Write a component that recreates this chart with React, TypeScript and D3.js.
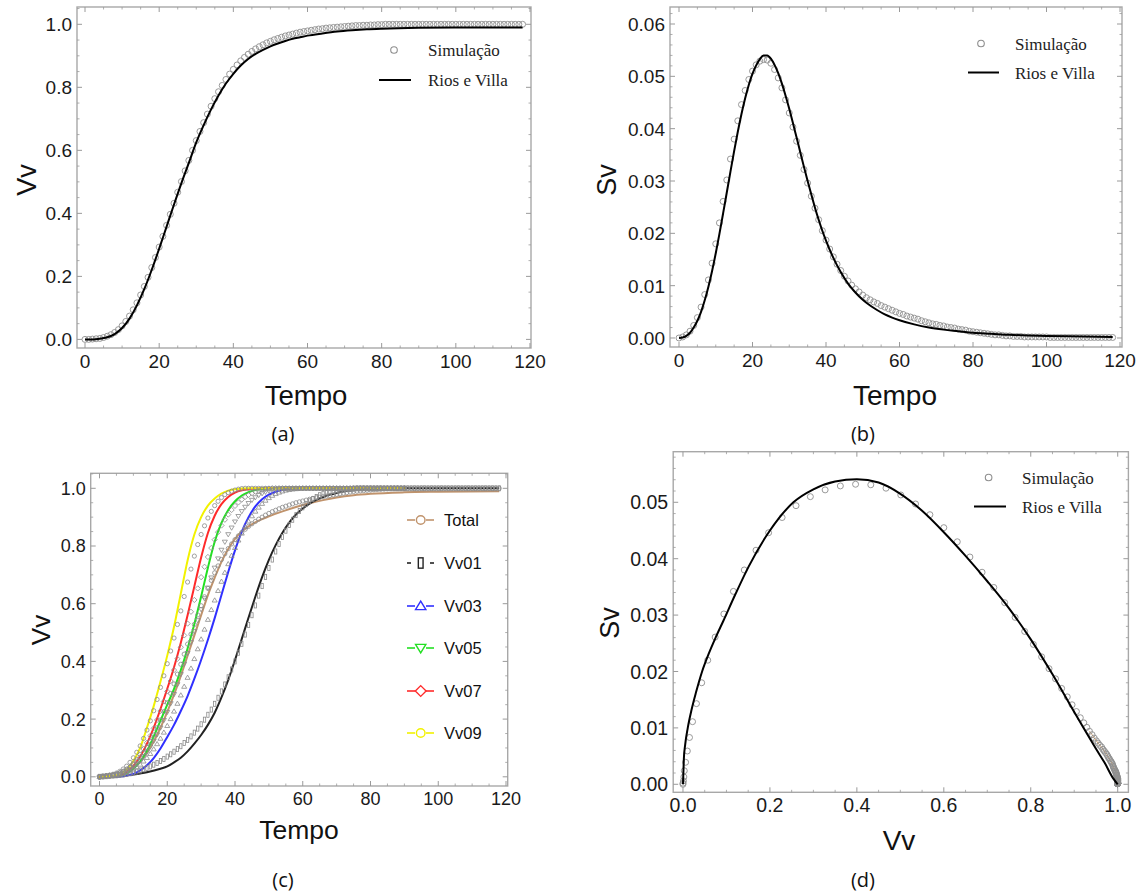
import React from "react";
import * as d3 from "d3";

// ---------- Data ----------
// Simulation (panels a, b, d): one value per time step t = 0..118
const simVv = [
  0.000, 0.000, 0.001, 0.002, 0.003, 0.006, 0.010, 0.015, 0.022, 0.031,
  0.043, 0.057, 0.074, 0.094, 0.116, 0.141, 0.168, 0.197, 0.228, 0.260,
  0.293, 0.327, 0.362, 0.397, 0.432, 0.467, 0.501, 0.535, 0.568, 0.600,
  0.631, 0.660, 0.688, 0.715, 0.740, 0.764, 0.786, 0.806, 0.825, 0.842,
  0.857, 0.871, 0.884, 0.895, 0.905, 0.914, 0.922, 0.929, 0.935, 0.941,
  0.946, 0.951, 0.955, 0.959, 0.963, 0.966, 0.969, 0.972, 0.975, 0.977,
  0.979, 0.981, 0.983, 0.985, 0.986, 0.988, 0.989, 0.990, 0.991, 0.992,
  0.993, 0.994, 0.995, 0.996, 0.996, 0.997, 0.997, 0.998, 0.998, 0.999,
  0.999, 1.000, 1.000, 1.000, 1.000, 1.000, 1.000, 1.000, 1.000, 1.000,
  1.000, 1.000, 1.000, 1.000, 1.000, 1.000, 1.000, 1.000, 1.000, 1.000,
  1.000, 1.000, 1.000, 1.000, 1.000, 1.000, 1.000, 1.000, 1.000, 1.000,
  1.000, 1.000, 1.000, 1.000, 1.000, 1.000, 1.000, 1.000, 1.000,
];
const simSv = [
  0.0000, 0.0002, 0.0006, 0.0013, 0.0024, 0.0039, 0.0059, 0.0083, 0.0111, 0.0143,
  0.0180, 0.0220, 0.0261, 0.0302, 0.0342, 0.0380, 0.0415, 0.0446, 0.0473, 0.0494,
  0.0510, 0.0522, 0.0529, 0.0532, 0.0531, 0.0525, 0.0513, 0.0497, 0.0478, 0.0455,
  0.0430, 0.0403, 0.0376, 0.0349, 0.0322, 0.0296, 0.0271, 0.0248, 0.0226, 0.0205,
  0.0187, 0.0170, 0.0155, 0.0141, 0.0129, 0.0118, 0.0109, 0.0101, 0.0094, 0.0088,
  0.0082, 0.0077, 0.0073, 0.0069, 0.0066, 0.0062, 0.0059, 0.0056, 0.0053, 0.0050,
  0.0047, 0.0045, 0.0042, 0.0040, 0.0038, 0.0036, 0.0033, 0.0031, 0.0029, 0.0027,
  0.0026, 0.0024, 0.0023, 0.0021, 0.0020, 0.0019, 0.0017, 0.0016, 0.0015, 0.0013,
  0.0012, 0.0011, 0.0010, 0.0009, 0.0008, 0.0007, 0.0006, 0.0006, 0.0005, 0.0004,
  0.0004, 0.0003, 0.0003, 0.0003, 0.0002, 0.0002, 0.0002, 0.0002, 0.0002, 0.0002,
  0.0002, 0.0001, 0.0001, 0.0001, 0.0001, 0.0001, 0.0001, 0.0001, 0.0001, 0.0001,
  0.0001, 0.0001, 0.0001, 0.0001, 0.0001, 0.0001, 0.0001, 0.0001, 0.0001,
];

// Rios e Villa model, panel (a)
const aLineT = [0, 2, 4, 6, 8, 10, 12, 14, 16, 18, 20, 22, 24, 26, 28, 30, 32, 34, 36, 38, 40, 42, 44, 46, 48, 50, 52, 54, 56, 58, 60, 64, 68, 72, 76, 80, 90, 100, 110, 118];
const aLineVv = [0, 0.000, 0.002, 0.007, 0.017, 0.036, 0.066, 0.108, 0.160, 0.221, 0.288, 0.358, 0.428, 0.496, 0.560, 0.625, 0.680, 0.730, 0.774, 0.812, 0.843, 0.869, 0.890, 0.906, 0.919, 0.930, 0.939, 0.947, 0.954, 0.959, 0.964, 0.971, 0.977, 0.981, 0.984, 0.986, 0.989, 0.990, 0.990, 0.990];

// Rios e Villa model, panel (b)
const bLineT = [0, 1, 2, 3, 4, 5, 6, 7, 8, 9, 10, 11, 12, 13, 14, 15, 16, 17, 18, 19, 20, 21, 22, 23, 24, 25, 26, 27, 28, 29, 30, 31, 32, 33, 34, 35, 36, 37, 38, 39, 40, 42, 44, 46, 48, 50, 52, 54, 56, 58, 60, 64, 68, 72, 76, 80, 85, 90, 95, 100, 110, 118];
const bLineSv = [0, 0.0001, 0.0004, 0.0010, 0.0020, 0.0033, 0.0050, 0.0072, 0.0098, 0.0128, 0.0162, 0.0199, 0.0238, 0.0278, 0.0318, 0.0357, 0.0394, 0.0428, 0.0458, 0.0484, 0.0505, 0.0521, 0.0533, 0.0540, 0.0540, 0.0534, 0.0522, 0.0506, 0.0486, 0.0463, 0.0438, 0.0411, 0.0383, 0.0355, 0.0327, 0.0300, 0.0274, 0.0249, 0.0226, 0.0205, 0.0186, 0.0153, 0.0126, 0.0104, 0.0087, 0.0073, 0.0062, 0.0053, 0.0045, 0.0039, 0.0034, 0.0026, 0.0020, 0.0016, 0.0013, 0.0010, 0.0008, 0.0006, 0.0005, 0.0004, 0.0003, 0.0002];

// Rios e Villa model, panel (d)
const dLineVv = [0, 0.002, 0.005, 0.011, 0.02, 0.03, 0.044, 0.06, 0.075, 0.093, 0.12, 0.151, 0.2, 0.254, 0.3, 0.35, 0.4, 0.45, 0.5, 0.55, 0.6, 0.65, 0.7, 0.75, 0.8, 0.85, 0.9, 0.95, 0.97, 0.99, 1.0];
const dLineSv = [0, 0.0045, 0.007, 0.010, 0.0133, 0.0163, 0.020, 0.0233, 0.026, 0.029, 0.0336, 0.0386, 0.0450, 0.0500, 0.0523, 0.0537, 0.0541, 0.0535, 0.0515, 0.0485, 0.0447, 0.0405, 0.036, 0.0312, 0.0257, 0.0195, 0.0128, 0.0063, 0.0038, 0.001, 0];

// Panel (c) model curves
const cTotalT = [0, 4, 6, 8, 10, 12, 14, 16, 18, 20, 22, 24, 26, 28, 30, 32, 34, 36, 38, 40, 42, 44, 46, 48, 50, 54, 58, 62, 66, 70, 75, 80, 90, 100, 118];
const cTotalVv = [0, 0.002, 0.006, 0.015, 0.03, 0.052, 0.083, 0.122, 0.17, 0.225, 0.285, 0.35, 0.42, 0.49, 0.56, 0.63, 0.69, 0.745, 0.79, 0.825, 0.85, 0.868, 0.882, 0.893, 0.903, 0.92, 0.935, 0.948, 0.959, 0.968, 0.976, 0.981, 0.986, 0.988, 0.99];
const cV01T = [0, 6, 10, 14, 18, 20, 22, 24, 26, 28, 30, 32, 34, 36, 38, 40, 42, 44, 46, 48, 50, 52, 54, 56, 58, 60, 62, 64, 66, 68, 70, 74, 80, 90, 118];
const cV01Vv = [0, 0.002, 0.008, 0.016, 0.028, 0.036, 0.05, 0.066, 0.088, 0.115, 0.145, 0.18, 0.222, 0.275, 0.336, 0.405, 0.478, 0.552, 0.624, 0.692, 0.752, 0.803, 0.846, 0.881, 0.909, 0.93, 0.947, 0.96, 0.97, 0.978, 0.984, 0.992, 0.997, 1.0, 1.0];
const cV03T = [0, 6, 8, 10, 12, 14, 16, 18, 20, 22, 24, 26, 28, 30, 32, 34, 36, 38, 40, 42, 44, 46, 48, 50, 52, 54, 58, 62, 90];
const cV03Vv = [0, 0.001, 0.004, 0.01, 0.022, 0.04, 0.065, 0.098, 0.138, 0.18, 0.228, 0.28, 0.34, 0.405, 0.475, 0.55, 0.63, 0.71, 0.785, 0.85, 0.9, 0.937, 0.962, 0.978, 0.988, 0.994, 0.999, 1.0, 1.0];
const cV05T = [0, 4, 6, 8, 10, 12, 14, 16, 18, 20, 22, 24, 26, 28, 30, 32, 34, 36, 38, 40, 42, 44, 46, 50, 54, 90];
const cV05Vv = [0, 0.001, 0.004, 0.012, 0.028, 0.053, 0.09, 0.14, 0.195, 0.25, 0.305, 0.37, 0.445, 0.53, 0.625, 0.725, 0.815, 0.88, 0.925, 0.955, 0.975, 0.987, 0.994, 0.999, 1.0, 1.0];
const cV07T = [0, 4, 6, 8, 10, 12, 14, 16, 18, 20, 22, 24, 26, 28, 30, 32, 34, 36, 38, 40, 42, 44, 48, 90];
const cV07Vv = [0, 0.002, 0.006, 0.017, 0.038, 0.07, 0.115, 0.17, 0.235, 0.305, 0.38, 0.465, 0.56, 0.66, 0.76, 0.845, 0.905, 0.945, 0.97, 0.985, 0.993, 0.997, 1.0, 1.0];
const cV09T = [0, 4, 6, 8, 10, 12, 14, 16, 18, 20, 22, 24, 26, 28, 30, 32, 34, 36, 38, 40, 44, 90];
const cV09Vv = [0, 0.003, 0.01, 0.025, 0.055, 0.10, 0.17, 0.245, 0.33, 0.42, 0.52, 0.635, 0.75, 0.84, 0.90, 0.94, 0.965, 0.982, 0.992, 0.997, 1.0, 1.0];

// Panel (c) simulations: one value per time step starting at t = 0
const cTotalSim = [
  0, 0.001, 0.002, 0.004, 0.006, 0.009, 0.013, 0.018, 0.024, 0.032,
  0.042, 0.054, 0.068, 0.084, 0.102, 0.122, 0.145, 0.17, 0.197, 0.226,
  0.257, 0.289, 0.322, 0.356, 0.39, 0.425, 0.46, 0.494, 0.528, 0.561,
  0.593, 0.624, 0.653, 0.681, 0.707, 0.731, 0.753, 0.773, 0.791, 0.807,
  0.822, 0.835, 0.847, 0.858, 0.868, 0.877, 0.885, 0.893, 0.9, 0.907,
  0.913, 0.919, 0.924, 0.929, 0.934, 0.938, 0.942, 0.946, 0.95, 0.953,
  0.956, 0.959, 0.962, 0.965, 0.967, 0.969, 0.971, 0.973, 0.975, 0.977,
  0.979, 0.981, 0.983, 0.985, 0.987, 0.989, 0.99, 0.991, 0.992, 0.993,
  0.994, 0.995, 0.996, 0.997, 0.998, 0.999, 1, 1, 1, 1,
  1, 1, 1, 1, 1, 1, 1, 1, 1, 1,
  1, 1, 1, 1, 1, 1, 1, 1, 1, 1,
  1, 1, 1, 1, 1, 1, 1, 1, 1,
];
const cV01Sim = [
  0, 0.001, 0.002, 0.003, 0.004, 0.005, 0.006, 0.008, 0.01, 0.012,
  0.015, 0.018, 0.022, 0.026, 0.031, 0.036, 0.042, 0.048, 0.055, 0.062,
  0.07, 0.078, 0.087, 0.096, 0.106, 0.117, 0.128, 0.14, 0.153, 0.167,
  0.182, 0.198, 0.215, 0.233, 0.253, 0.274, 0.296, 0.32, 0.345, 0.372,
  0.4, 0.43, 0.461, 0.493, 0.526, 0.56, 0.594, 0.628, 0.661, 0.693,
  0.724, 0.753, 0.781, 0.807, 0.831, 0.853, 0.873, 0.891, 0.907, 0.921,
  0.934, 0.945, 0.955, 0.963, 0.97, 0.976, 0.981, 0.985, 0.988, 0.991,
  0.993, 0.995, 0.996, 0.997, 0.998, 0.999, 1, 1, 1, 1,
  1, 1, 1, 1, 1, 1, 1, 1, 1, 1,
  1, 1, 1, 1, 1, 1, 1, 1, 1, 1,
  1, 1, 1, 1, 1, 1, 1, 1, 1, 1,
  1, 1, 1, 1, 1, 1, 1, 1, 1,
];
const cV03Sim = [
  0, 0.001, 0.002, 0.003, 0.004, 0.006, 0.008, 0.011, 0.015, 0.02,
  0.026, 0.034, 0.043, 0.054, 0.066, 0.08, 0.096, 0.114, 0.133, 0.154,
  0.177, 0.201, 0.227, 0.254, 0.283, 0.313, 0.344, 0.376, 0.409, 0.443,
  0.477, 0.511, 0.545, 0.579, 0.612, 0.645, 0.677, 0.708, 0.738, 0.767,
  0.794, 0.82, 0.844, 0.866, 0.886, 0.904, 0.92, 0.934, 0.947, 0.958,
  0.967, 0.975, 0.981, 0.986, 0.99, 0.993, 0.995, 0.997, 0.998, 0.999,
  1, 1, 1, 1, 1, 1, 1, 1, 1, 1,
  1, 1, 1, 1, 1, 1, 1, 1, 1, 1,
  1, 1, 1, 1, 1, 1, 1, 1, 1, 1, 1,
];
const cV05Sim = [
  0, 0.001, 0.002, 0.003, 0.005, 0.007, 0.01, 0.014, 0.019, 0.026,
  0.034, 0.044, 0.056, 0.07, 0.086, 0.104, 0.124, 0.146, 0.17, 0.196,
  0.224, 0.254, 0.286, 0.32, 0.355, 0.391, 0.428, 0.466, 0.504, 0.542,
  0.58, 0.618, 0.655, 0.69, 0.724, 0.756, 0.786, 0.814, 0.84, 0.863,
  0.884, 0.903, 0.92, 0.935, 0.948, 0.959, 0.968, 0.976, 0.982, 0.987,
  0.991, 0.994, 0.996, 0.998, 0.999, 1, 1, 1, 1, 1,
  1, 1, 1, 1, 1, 1, 1, 1, 1, 1,
  1, 1, 1, 1, 1, 1, 1, 1, 1, 1,
  1, 1, 1, 1, 1, 1, 1, 1, 1, 1, 1,
];
const cV07Sim = [
  0, 0.001, 0.003, 0.005, 0.007, 0.01, 0.014, 0.019, 0.026, 0.035,
  0.046, 0.06, 0.077, 0.096, 0.118, 0.142, 0.168, 0.197, 0.228, 0.261,
  0.296, 0.332, 0.37, 0.409, 0.449, 0.49, 0.531, 0.572, 0.613, 0.653,
  0.692, 0.728, 0.762, 0.793, 0.822, 0.848, 0.871, 0.891, 0.909, 0.925,
  0.939, 0.951, 0.961, 0.97, 0.977, 0.983, 0.988, 0.992, 0.995, 0.997,
  0.999, 1, 1, 1, 1, 1, 1, 1, 1, 1,
  1, 1, 1, 1, 1, 1, 1, 1, 1, 1,
  1, 1, 1, 1, 1, 1, 1, 1, 1, 1,
  1, 1, 1, 1, 1, 1, 1, 1, 1, 1, 1,
];
const cV09Sim = [
  0, 0.002, 0.004, 0.006, 0.009, 0.013, 0.019, 0.027, 0.037, 0.05,
  0.066, 0.085, 0.107, 0.133, 0.162, 0.194, 0.229, 0.268, 0.31, 0.35,
  0.392, 0.436, 0.481, 0.528, 0.575, 0.625, 0.675, 0.72, 0.765, 0.805,
  0.84, 0.87, 0.897, 0.92, 0.94, 0.955, 0.968, 0.978, 0.985, 0.99,
  0.994, 0.997, 0.999, 1, 1, 1, 1, 1, 1, 1,
  1, 1, 1, 1, 1, 1, 1, 1, 1, 1,
  1, 1, 1, 1, 1, 1, 1, 1, 1, 1,
  1, 1, 1, 1, 1, 1, 1, 1, 1, 1,
  1, 1, 1, 1, 1, 1, 1, 1, 1, 1, 1,
];

const cSeriesNames = ["Total", "Vv01", "Vv03", "Vv05", "Vv07", "Vv09"];
const cSeriesColors = ["#c0936c", "#222222", "#3030ff", "#22e022", "#ff2a2a", "#f2f200"];
const cSeriesShapes = ["circle", "rect", "up", "down", "diamond", "circle"];

// Tick labels
const timeTicks = [0, 20, 40, 60, 80, 100, 120];
const vvTicks = [0, 0.2, 0.4, 0.6, 0.8, 1.0];
const svTicksB = [0, 0.01, 0.02, 0.03, 0.04, 0.05, 0.06];
const svTicksD = [0, 0.01, 0.02, 0.03, 0.04, 0.05];

// ---------- Layout ----------
type Cfg = {
  left: number; top: number; right: number; bottom: number;
  xd: [number, number]; yd: [number, number];
  xMajor: number[]; xMinorStep: number; yMajor: number[]; yMinorStep: number;
  xFmt: (v: number) => string; yFmt: (v: number) => string; fs: number;
};

const SANS = "'Liberation Sans', Arial, sans-serif";
const SERIF = "'Liberation Serif', 'Times New Roman', serif";
const CAP = "'Open Sans', 'DejaVu Sans', sans-serif";

function minors(d: [number, number], step: number, majors: number[]) {
  const out: number[] = [];
  const start = Math.ceil(d[0] / step - 1e-9);
  const end = Math.floor(d[1] / step + 1e-9);
  for (let i = start; i <= end; i++) {
    const v = +(i * step).toFixed(6);
    if (!majors.some((m) => Math.abs(m - v) < step / 10)) out.push(v);
  }
  return out;
}

function scalesOf(c: Cfg) {
  return {
    x: d3.scaleLinear().domain(c.xd).range([c.left, c.right]),
    y: d3.scaleLinear().domain(c.yd).range([c.bottom, c.top]),
  };
}

function Frame({ c }: { c: Cfg }) {
  const { x, y } = scalesOf(c);
  const tk = "#9a9a9a";
  const xm = minors(c.xd, c.xMinorStep, c.xMajor);
  const ym = minors(c.yd, c.yMinorStep, c.yMajor);
  const xM = c.xMajor.filter((v) => v >= c.xd[0] && v <= c.xd[1]);
  const yM = c.yMajor.filter((v) => v >= c.yd[0] && v <= c.yd[1]);
  return (
    <g>
      <rect x={c.left} y={c.top} width={c.right - c.left} height={c.bottom - c.top} fill="none" stroke="#a8a8a8" strokeWidth={1.4} />
      {xM.map((v) => (
        <g key={"xM" + v}>
          <line x1={x(v)} x2={x(v)} y1={c.bottom} y2={c.bottom - 5} stroke={tk} strokeWidth={1} />
          <line x1={x(v)} x2={x(v)} y1={c.top} y2={c.top + 5} stroke={tk} strokeWidth={1} />
        </g>
      ))}
      {xm.map((v) => (
        <g key={"xm" + v}>
          <line x1={x(v)} x2={x(v)} y1={c.bottom} y2={c.bottom - 2.5} stroke={tk} strokeWidth={0.8} />
          <line x1={x(v)} x2={x(v)} y1={c.top} y2={c.top + 2.5} stroke={tk} strokeWidth={0.8} />
        </g>
      ))}
      {yM.map((v) => (
        <g key={"yM" + v}>
          <line x1={c.left} x2={c.left + 5} y1={y(v)} y2={y(v)} stroke={tk} strokeWidth={1} />
          <line x1={c.right} x2={c.right - 5} y1={y(v)} y2={y(v)} stroke={tk} strokeWidth={1} />
        </g>
      ))}
      {ym.map((v) => (
        <g key={"ym" + v}>
          <line x1={c.left} x2={c.left + 2.5} y1={y(v)} y2={y(v)} stroke={tk} strokeWidth={0.8} />
          <line x1={c.right} x2={c.right - 2.5} y1={y(v)} y2={y(v)} stroke={tk} strokeWidth={0.8} />
        </g>
      ))}
      {xM.map((v) => (
        <text key={"xl" + v} x={x(v)} y={c.bottom + c.fs + 0.5} textAnchor="middle" fontFamily={SANS} fontSize={c.fs} fill="#1a1a1a">
          {c.xFmt(v)}
        </text>
      ))}
      {yM.map((v) => (
        <text key={"yl" + v} x={c.left - 5} y={y(v)} dy="0.36em" textAnchor="end" fontFamily={SANS} fontSize={c.fs} fill="#1a1a1a">
          {c.yFmt(v)}
        </text>
      ))}
    </g>
  );
}

function Marker({ shape, cx, cy, s, stroke, fill, sw }: { shape: string; cx: number; cy: number; s: number; stroke: string; fill: string; sw: number }) {
  if (shape === "circle") return <circle cx={cx} cy={cy} r={s} fill={fill} stroke={stroke} strokeWidth={sw} />;
  if (shape === "rect") return <rect x={cx - s * 0.55} y={cy - s * 1.2} width={s * 1.1} height={s * 2.4} fill={fill} stroke={stroke} strokeWidth={sw} />;
  if (shape === "up") return <path d={`M${cx},${cy - s * 1.15}L${cx + s * 1.2},${cy + s * 0.85}L${cx - s * 1.2},${cy + s * 0.85}Z`} fill={fill} stroke={stroke} strokeWidth={sw} />;
  if (shape === "down") return <path d={`M${cx},${cy + s * 1.15}L${cx + s * 1.2},${cy - s * 0.85}L${cx - s * 1.2},${cy - s * 0.85}Z`} fill={fill} stroke={stroke} strokeWidth={sw} />;
  return <path d={`M${cx},${cy - s * 1.25}L${cx + s * 1.25},${cy}L${cx},${cy + s * 1.25}L${cx - s * 1.25},${cy}Z`} fill={fill} stroke={stroke} strokeWidth={sw} />;
}

const fmt1 = (v: number) => v.toFixed(1);
const fmt0 = (v: number) => String(v);
const fmt2 = (v: number) => v.toFixed(2);

const cfgA: Cfg = { left: 77, top: 7, right: 531, bottom: 348, xd: [-2.16, 120.27], yd: [-0.0273, 1.0549], xMajor: timeTicks, xMinorStep: 5, yMajor: vvTicks, yMinorStep: 0.05, xFmt: fmt0, yFmt: fmt1, fs: 19 };
const cfgB: Cfg = { left: 670, top: 7, right: 1122, bottom: 347, xd: [-2.45, 120.54], yd: [-0.00172, 0.06325], xMajor: timeTicks, xMinorStep: 5, yMajor: svTicksB, yMinorStep: 0.002, xFmt: fmt0, yFmt: fmt2, fs: 19 };
const cfgC: Cfg = { left: 90.7, top: 473.3, right: 507.7, bottom: 786, xd: [-2.6, 120.5], yd: [-0.0319, 1.052], xMajor: timeTicks, xMinorStep: 5, yMajor: vvTicks, yMinorStep: 0.05, xFmt: fmt0, yFmt: fmt1, fs: 18 };
const cfgD: Cfg = { left: 673.2, top: 451.7, right: 1128.4, bottom: 792.3, xd: [-0.0225, 1.0246], yd: [-0.00142, 0.05897], xMajor: vvTicks, xMinorStep: 0.05, yMajor: svTicksD, yMinorStep: 0.002, xFmt: fmt1, yFmt: fmt2, fs: 19.5 };

const SIM_STROKE = "#8e8e8e";

function SerifLegend({ cx, cy, lx1, lx2, ly, tx, ty1, ty2 }: { cx: number; cy: number; lx1: number; lx2: number; ly: number; tx: number; ty1: number; ty2: number }) {
  return (
    <g>
      <circle cx={cx} cy={cy} r={3.3} fill="none" stroke={SIM_STROKE} strokeWidth={1.1} />
      <text x={tx} y={ty1} fontFamily={SERIF} fontSize={17} fill="#222">Simulação</text>
      <line x1={lx1} x2={lx2} y1={ly} y2={ly} stroke="#000" strokeWidth={2} />
      <text x={tx} y={ty2} fontFamily={SERIF} fontSize={17} fill="#222">Rios e Villa</text>
    </g>
  );
}

function PanelA() {
  const { x, y } = scalesOf(cfgA);
  const line = d3.line<number>().x((_, i) => x(aLineT[i])).y((d) => y(d)).curve(d3.curveMonotoneX);
  return (
    <g>
      <Frame c={cfgA} />
      {simVv.map((v, i) => (
        <circle key={i} cx={x(i)} cy={y(v)} r={3} fill="none" stroke={SIM_STROKE} strokeWidth={0.9} />
      ))}
      <path d={line(aLineVv) || ""} fill="none" stroke="#000" strokeWidth={2} />
      <SerifLegend cx={394} cy={50} lx1={379} lx2={411} ly={80} tx={428} ty1={56} ty2={86} />
      <text transform="translate(36,180) rotate(-90)" textAnchor="middle" fontFamily={SANS} fontSize={27} fill="#111">Vv</text>
      <text x={306} y={405} textAnchor="middle" fontFamily={SANS} fontSize={27.5} fill="#111">Tempo</text>
      <text x={283} y={441} textAnchor="middle" fontFamily={CAP} fontSize={20} fill="#111">(a)</text>
    </g>
  );
}

function PanelB() {
  const { x, y } = scalesOf(cfgB);
  const line = d3.line<number>().x((_, i) => x(bLineT[i])).y((d) => y(d)).curve(d3.curveMonotoneX);
  return (
    <g>
      <Frame c={cfgB} />
      {simSv.map((v, i) => (
        <circle key={i} cx={x(i)} cy={y(v)} r={3} fill="none" stroke={SIM_STROKE} strokeWidth={0.9} />
      ))}
      <path d={line(bLineSv) || ""} fill="none" stroke="#000" strokeWidth={2} />
      <SerifLegend cx={981} cy={43.5} lx1={968} lx2={999} ly={72.5} tx={1015} ty1={49.5} ty2={78.5} />
      <text transform="translate(616,180) rotate(-90)" textAnchor="middle" fontFamily={SANS} fontSize={27} fill="#111">Sv</text>
      <text x={895} y={405} textAnchor="middle" fontFamily={SANS} fontSize={28} fill="#111">Tempo</text>
      <text x={863} y={441} textAnchor="middle" fontFamily={CAP} fontSize={20} fill="#111">(b)</text>
    </g>
  );
}

function PanelC() {
  const { x, y } = scalesOf(cfgC);
  const ts = [cTotalT, cV01T, cV03T, cV05T, cV07T, cV09T];
  const vs = [cTotalVv, cV01Vv, cV03Vv, cV05Vv, cV07Vv, cV09Vv];
  const sims = [cTotalSim, cV01Sim, cV03Sim, cV05Sim, cV07Sim, cV09Sim];
  const legendY = [520, 563, 606, 648, 691, 733];
  return (
    <g>
      <Frame c={cfgC} />
      {vs.map((vals, k) => {
        const line = d3.line<number>().x((_, i) => x(ts[k][i])).y((d) => y(d)).curve(d3.curveMonotoneX);
        return <path key={k} d={line(vals) || ""} fill="none" stroke={cSeriesColors[k]} strokeWidth={2} />;
      })}
      {sims.map((arr, k) => (
        <g key={"s" + k}>
          {arr.map((v, i) => (
            <Marker key={i} shape={cSeriesShapes[k]} cx={x(i)} cy={y(v)} s={2.1} stroke="#8a8a8a" fill="none" sw={0.8} />
          ))}
        </g>
      ))}
      {cSeriesNames.map((n, k) => (
        <g key={n}>
          {k === 1 ? (
            <g>
              <line x1={407} x2={411} y1={legendY[k]} y2={legendY[k]} stroke={cSeriesColors[k]} strokeWidth={1.6} />
              <line x1={430} x2={434} y1={legendY[k]} y2={legendY[k]} stroke={cSeriesColors[k]} strokeWidth={1.6} />
            </g>
          ) : (
            <g>
              <line x1={407} x2={415} y1={legendY[k]} y2={legendY[k]} stroke={cSeriesColors[k]} strokeWidth={1.6} />
              <line x1={426} x2={434} y1={legendY[k]} y2={legendY[k]} stroke={cSeriesColors[k]} strokeWidth={1.6} />
            </g>
          )}
          <Marker shape={cSeriesShapes[k]} cx={420.7} cy={legendY[k]} s={4.3} stroke={cSeriesColors[k]} fill="#fff" sw={1.4} />
          <text x={444} y={legendY[k]} dy="0.36em" fontFamily={SANS} fontSize={16.5} fill="#111">{n}</text>
        </g>
      ))}
      <text transform="translate(50,630) rotate(-90)" textAnchor="middle" fontFamily={SANS} fontSize={26} fill="#111">Vv</text>
      <text x={299} y={839} textAnchor="middle" fontFamily={SANS} fontSize={26.5} fill="#111">Tempo</text>
      <text x={283} y={887} textAnchor="middle" fontFamily={CAP} fontSize={20} fill="#111">(c)</text>
    </g>
  );
}

function PanelD() {
  const { x, y } = scalesOf(cfgD);
  const line = d3.line<number>().x((d) => x(d)).y((_, i) => y(dLineSv[i])).curve(d3.curveMonotoneX);
  const tail = simVv.map((v, i) => [v, simSv[i]] as [number, number]).filter((p) => p[0] >= 0.93);
  const tailLine = d3.line<[number, number]>().x((p) => x(p[0])).y((p) => y(p[1]));
  return (
    <g>
      <Frame c={cfgD} />
      <path d={tailLine(tail) || ""} fill="none" stroke="#d9a066" strokeWidth={1} />
      {simVv.map((v, i) => (
        <circle key={i} cx={x(v)} cy={y(simSv[i])} r={3} fill="none" stroke={SIM_STROKE} strokeWidth={0.9} />
      ))}
      <path d={line(dLineVv) || ""} fill="none" stroke="#000" strokeWidth={2} />
      <SerifLegend cx={988.6} cy={477.5} lx1={974} lx2={1006} ly={506.5} tx={1022} ty1={483.5} ty2={512.5} />
      <text transform="translate(619,623) rotate(-90)" textAnchor="middle" fontFamily={SANS} fontSize={27} fill="#111">Sv</text>
      <text x={899} y={850} textAnchor="middle" fontFamily={SANS} fontSize={28} fill="#111">Vv</text>
      <text x={863} y={887} textAnchor="middle" fontFamily={CAP} fontSize={20} fill="#111">(d)</text>
    </g>
  );
}

export default function App() {
  return (
    <svg width={1142} height={894} viewBox="0 0 1142 894" style={{ position: "absolute", left: 0, top: 0, background: "#fff" }}>
      <rect x={0} y={0} width={1142} height={894} fill="#fff" />
      <PanelA />
      <PanelB />
      <PanelC />
      <PanelD />
    </svg>
  );
}
